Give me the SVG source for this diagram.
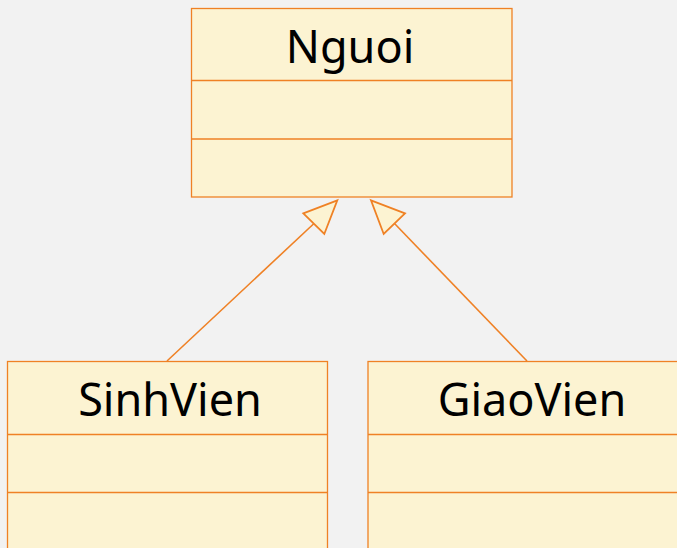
<svg xmlns="http://www.w3.org/2000/svg" width="677" height="548" viewBox="0 0 677 548">
<style>
.box{fill:#FCF3D2;stroke:#EF8125;stroke-width:1.3}
.div{stroke:#EF8125;stroke-width:1.3}
.lbl{font-family:"Noto Sans","Open Sans","Liberation Sans",sans-serif;font-size:45px;fill:#000;text-anchor:middle}
.conn{stroke:#EF8125;stroke-width:1.6;fill:none}
.head{fill:#FCF3D2;stroke:#EF8125;stroke-width:1.8}
</style>
<rect width="677" height="548" fill="#F2F2F2"/>
<g id="Nguoi">
<rect class="box" x="191.5" y="8.5" width="320.5" height="188.5"/>
<line class="div" x1="191.5" y1="80.5" x2="512" y2="80.5"/>
<line class="div" x1="191.5" y1="139" x2="512" y2="139"/>
<text class="lbl" x="350" y="63">Nguoi</text>
</g>
<g id="SinhVien">
<rect class="box" x="7.5" y="361.5" width="320" height="200"/>
<line class="div" x1="7.5" y1="434.5" x2="327.5" y2="434.5"/>
<line class="div" x1="7.5" y1="492.5" x2="327.5" y2="492.5"/>
<text class="lbl" x="170" y="416">SinhVien</text>
</g>
<g id="GiaoVien">
<rect class="box" x="368" y="361.5" width="320" height="200"/>
<line class="div" x1="368" y1="434.5" x2="688" y2="434.5"/>
<line class="div" x1="368" y1="492.5" x2="688" y2="492.5"/>
<text class="lbl" x="532" y="416">GiaoVien</text>
</g>
<g id="connectors">
<line class="conn" x1="167" y1="361" x2="314" y2="223.5"/>
<polygon class="head" points="337.3,200.3 303.3,213.3 324.3,234"/>
<line class="conn" x1="527" y1="361" x2="394.5" y2="223.5"/>
<polygon class="head" points="371,200.3 405,213.3 383.7,234"/>
</g>
</svg>
